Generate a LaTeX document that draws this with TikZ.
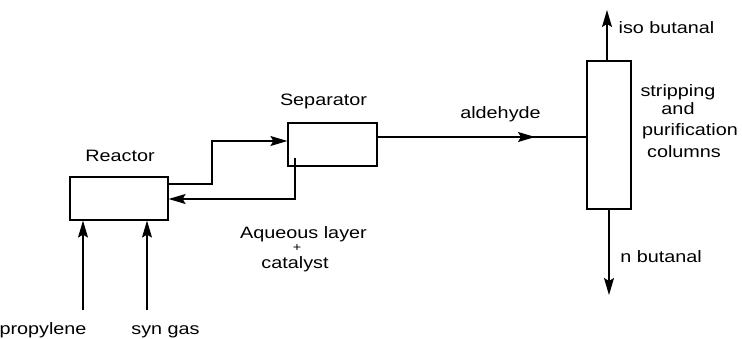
\documentclass[tikz,border=0pt]{standalone}
\usepackage{fontspec}
\setmainfont{Liberation Sans}[FakeStretch=1.2]
\usetikzlibrary{arrows.meta}
\begin{document}
\begin{tikzpicture}[x=1pt,y=-1pt,
  lbl/.style={font=\fontsize{16.5}{18}\selectfont, inner sep=0pt, text height=0.72em, text depth=0pt, anchor=center},
  unit/.style={draw, line width=1.2pt, inner sep=0pt},
  flow/.style={line width=1.2pt},
  headed/.style={-{Stealth[length=17pt,width=10pt,inset=3pt]}}
]
\useasboundingbox (0,0) rectangle (742,338);
% boxes
\node[unit, minimum width=98pt, minimum height=43pt] (reactor) at (119,198.5) {};
\node[unit, minimum width=89pt, minimum height=43pt] (sep) at (332.5,144.5) {};
\node[unit, minimum width=44pt, minimum height=148pt] (col) at (609,135) {};
% labels
\node[lbl] (lreactor) at (120,157.5) {Reactor};
\node[lbl] (lsep) at (323.5,101.5) {Separator};
\node[lbl] (lald) at (500.5,115) {aldehyde};
\node[lbl] (liso) at (666.5,29.5) {iso butanal};
\node[lbl] (lnbut) at (661,258.5) {n butanal};
\node[lbl] (ls1) at (678,92.5) {stripping};
\node[lbl] (ls2) at (678,110.5) {and};
\node[lbl] (ls3) at (690,131.5) {purification};
\node[lbl] (ls4) at (684,153.5) {columns};
\node[lbl] (laq) at (303.5,235) {Aqueous layer};
\node[font=\fontsize{12}{13}\selectfont, inner sep=0pt] (lplus) at (297,248) {+};
\node[lbl] (lcat) at (295,265) {catalyst};
\node[lbl] (lprop) at (43,331) {propylene};
\node[lbl] (lsyn) at (165.5,331) {syn gas};
% coordinates
\coordinate (propin) at (83,310);
\coordinate (synin) at (147,310);
\coordinate (r1) at (212,184);
\coordinate (r2) at (212,141);
\coordinate (s1) at (295,158);
\coordinate (s2) at (295,199);
\coordinate (ald) at (535,137);
\coordinate (isoout) at (607,10);
\coordinate (nout) at (609,295);
% connectors
\draw[flow, headed] (propin) -- (propin |- reactor.south);
\draw[flow, headed] (synin) -- (synin |- reactor.south);
\draw[flow, headed] (reactor.east |- r1) -- (r1) -- (r2) -- (sep.west |- r2);
\draw[flow, headed] (s1) -- (s2) -- (reactor.east |- s2);
\draw[flow, headed] (sep.east |- ald) -- (ald);
\draw[flow] ([xshift=-4pt]ald) -- (col.west |- ald);
\draw[flow, headed] (isoout |- col.north) -- (isoout);
\draw[flow, headed] (nout |- col.south) -- (nout);
\end{tikzpicture}
\end{document}
